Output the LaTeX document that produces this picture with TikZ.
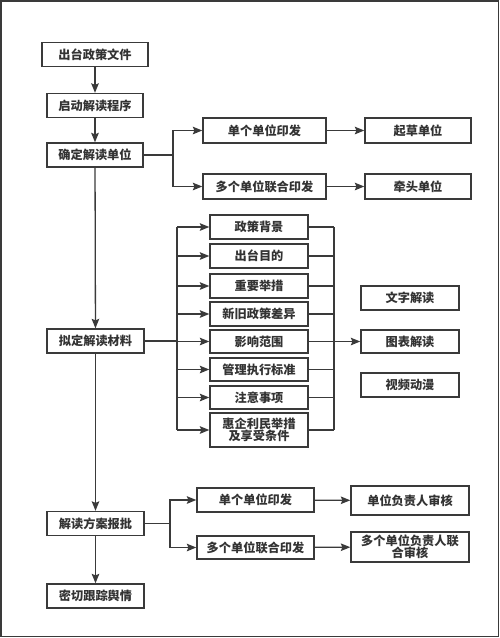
\documentclass[tikz,border=0pt]{standalone}
\usepackage{fontspec}
\newfontfamily\cjk{Noto Sans CJK SC}
\usetikzlibrary{arrows.meta,calc}
\definecolor{linec}{HTML}{3A3A3A}
\definecolor{textc}{HTML}{333333}
\begin{document}
\begin{tikzpicture}[x=1pt,y=-1pt,
  box/.style={draw=linec,line width=1.3pt,fill=white,inner sep=0pt,
    minimum height=24pt,align=center,text=textc,
    font=\cjk\bfseries\fontsize{12.2}{13}\selectfont},
  conn/.style={draw=linec,line width=1.3pt},
  arr/.style={conn,-{Stealth[length=9.5pt,width=7.5pt,inset=1.5pt]}}]
\useasboundingbox (0,0) rectangle (500,638);
\draw[draw=linec,line width=1.5pt] (1,1) rectangle (498.5,636.5);
% main column
\node[box,minimum width=106pt] (n1) at (95,54.5) {出台政策文件};
\node[box,minimum width=96pt] (n2) at (95,105.5) {启动解读程序};
\node[box,minimum width=96pt] (n3) at (95,155) {确定解读单位};
\node[box,minimum width=97pt] (n4) at (95.5,341) {拟定解读材料};
\node[box,minimum width=97pt] (n5) at (95.5,523.5) {解读方案报批};
\node[box,minimum width=97pt] (n6) at (95.5,596) {密切跟踪舆情};
% top branch
\node[box,minimum width=123pt,minimum height=25pt] (s1) at (264.5,130.5) {单个单位印发};
\node[box,minimum width=123pt,minimum height=25pt] (s2) at (264.5,186.5) {多个单位联合印发};
\node[box,minimum width=106pt,minimum height=25pt] (q1) at (418,130.5) {起草单位};
\node[box,minimum width=106pt,minimum height=25pt] (q2) at (418,186.5) {牵头单位};
% materials
\node[box,minimum width=98pt] (m1) at (259,227) {政策背景};
\node[box,minimum width=98pt] (m2) at (259,256) {出台目的};
\node[box,minimum width=98pt] (m3) at (259,286) {重要举措};
\node[box,minimum width=98pt] (m4) at (259,314) {新旧政策差异};
\node[box,minimum width=98pt,minimum height=23pt] (m5) at (259,341.5) {影响范围};
\node[box,minimum width=98pt,minimum height=23pt] (m6) at (259,369.5) {管理执行标准};
\node[box,minimum width=98pt,minimum height=23pt] (m7) at (259,397.5) {注意事项};
\node[box,minimum width=98pt,minimum height=34pt,font=\cjk\bfseries\fontsize{12.2}{12.5}\selectfont] (m8) at (259,430) {惠企利民举措\\及享受条件};
% forms
\node[box,minimum width=98pt] (f1) at (410,298) {文字解读};
\node[box,minimum width=98pt,minimum height=23pt] (f2) at (410,341.5) {图表解读};
\node[box,minimum width=98pt] (f3) at (410,385) {视频动漫};
% approval branch
\node[box,minimum width=117pt] (a1) at (255.5,500) {单个单位印发};
\node[box,minimum width=117pt,minimum height=23pt] (a2) at (255.5,547.5) {多个单位联合印发};
\node[box,minimum width=118pt,minimum height=29pt] (r1) at (410,500.5) {单位负责人审核};
\node[box,minimum width=118pt,minimum height=30pt,font=\cjk\bfseries\fontsize{12.2}{12}\selectfont] (r2) at (410,547) {多个单位负责人联\\合审核};
% coordinates
\coordinate (b1) at (173,155);
\coordinate (lbt) at (177,227);
\coordinate (lbb) at (177,430);
\coordinate (rbt) at (334,227);
\coordinate (rbb) at (334,430);
\coordinate (b2) at (170,523.5);
% main arrows
\draw[arr] (n1) -- (n2);
\draw[arr] (n2) -- (n3);
\draw[arr] (n3) -- (n4);
\draw[arr] (n4) -- (n5);
\draw[arr] (n5) -- (n6);
% top branch
\draw[conn] (n3.east) -- (b1);
\draw[arr] (b1) |- (s1.west);
\draw[arr] (b1) |- (s2.west);
\draw[arr] (s1) -- (q1);
\draw[arr] (s2) -- (q2);
% materials
\draw[conn] (n4.east) -- (lbt |- n4.east);
\draw[conn] (lbt) -- (lbb);
\draw[conn] (rbt) -- (rbb);
\foreach \m in {m1,m2,m3,m4,m5,m6,m7,m8}{
  \draw[arr] (lbt |- \m.west) -- (\m.west);
  \draw[conn] (\m.east) -- (rbt |- \m.east);
}
\draw[arr] (m5.east) -- (f2.west);
% approval branch
\draw[conn] (n5.east) -- (b2);
\draw[arr] (b2) |- (a1.west);
\draw[arr] (b2) |- (a2.west);
\draw[arr] (a1) -- (r1);
\draw[arr] (a2) -- (r2);
\end{tikzpicture}
\end{document}
